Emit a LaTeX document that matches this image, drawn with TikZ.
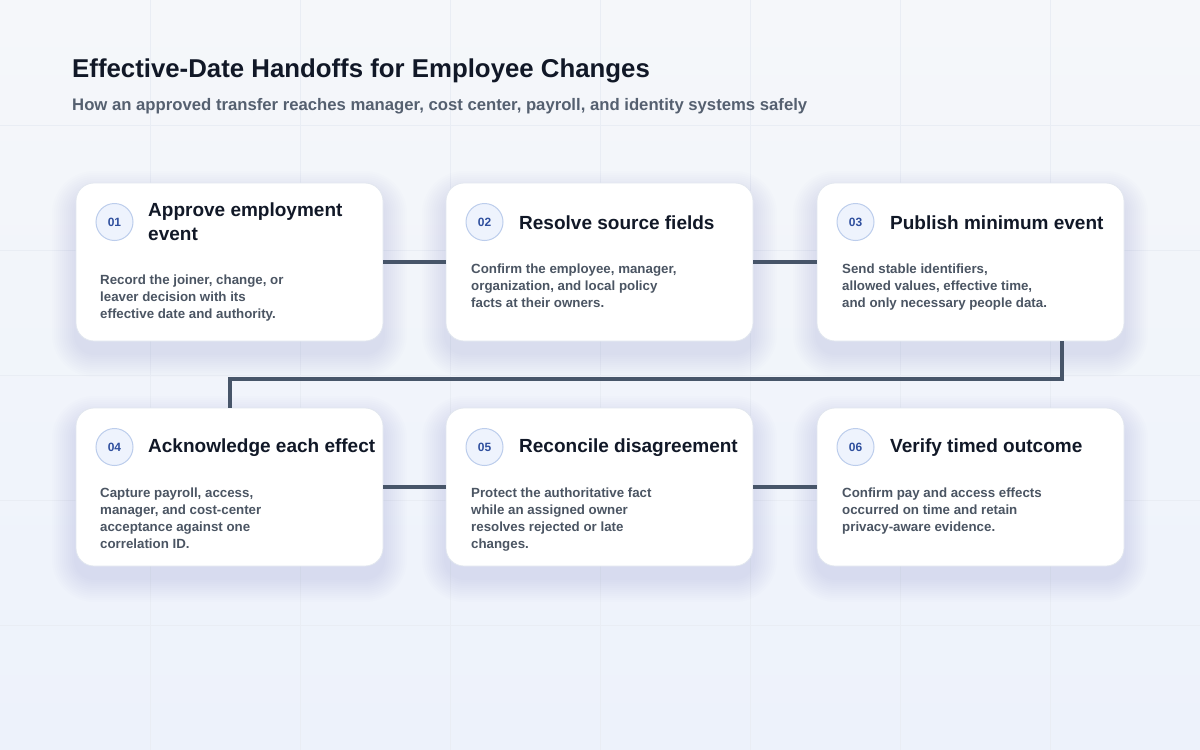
\documentclass[tikz,border=0pt]{standalone}
\usepackage{xcolor}
\usepackage{fontspec}
\setmainfont{Liberation Sans}
\usepackage{tikz}
\usetikzlibrary{positioning}

\definecolor{ink}{HTML}{111827}
\definecolor{slate}{HTML}{4B5563}
\definecolor{subink}{HTML}{556070}
\definecolor{wire}{HTML}{475569}
\definecolor{ringfill}{HTML}{EEF3FD}
\definecolor{ringline}{HTML}{BCCDEC}
\definecolor{numblue}{HTML}{2F4F9E}
\definecolor{bgtop}{HTML}{F5F7FA}
\definecolor{bgbot}{HTML}{EDF2FB}
\definecolor{gridline}{HTML}{E9EDF4}
\definecolor{cardline}{HTML}{E2E7EF}
\definecolor{shadowtint}{HTML}{4A5A80}

\tikzset{
  card/.style={draw=cardline, line width=0.8pt, fill=white, rounded corners=18pt,
    minimum width=307pt, minimum height=158pt, inner sep=0pt},
  haze/.style={fill=shadowtint, opacity=0.009},
  badge/.style={circle, draw=ringline, line width=1pt, fill=ringfill, minimum size=37pt, inner sep=0pt,
    text=numblue, font=\bfseries\fontsize{12}{14}\selectfont},
  headline/.style={anchor=west, align=left, inner sep=0pt, text=ink,
    font=\bfseries\fontsize{19}{24}\selectfont},
  blurb/.style={anchor=north west, align=left, inner sep=0pt, text=slate,
    font=\bfseries\fontsize{13.3}{17}\selectfont},
  link/.style={draw=wire, line width=4pt}
}

\begin{document}
\begin{tikzpicture}[x=1pt, y=-1pt]
   \useasboundingbox (0,0) rectangle (1200,750);
   \shade[top color=bgtop, bottom color=bgbot] (0,0) rectangle (1200,750);
   \foreach \gx in {150,300,...,1050} \draw[gridline, line width=0.8pt] (\gx,0) -- (\gx,750);
   \foreach \gy in {125,250,...,625} \draw[gridline, line width=0.8pt] (0,\gy) -- (1200,\gy);

   \node (heading) [anchor=base west, inner sep=0pt, text=ink,
       font=\bfseries\fontsize{25.8}{30}\selectfont] at (72,77) {Effective-Date Handoffs for Employee Changes};
   \node (subheading) [anchor=base west, inner sep=0pt, text=subink,
       font=\bfseries\fontsize{16.7}{19}\selectfont] at (72,110) {How an approved transfer reaches manager, cost center, payroll, and identity systems safely};

   \foreach \cx/\cy in {229.5/262, 599.5/262, 970.5/262, 229.5/487, 599.5/487, 970.5/487}
       \foreach \k/\rr in {2/20,4/22,6/24,8/26,10/28,12/30,14/32,16/34,18/36,20/38,22/40,24/42}
           \fill[haze, rounded corners=\rr pt] (\cx-153.5-\k,\cy-67-\k) rectangle (\cx+153.5+\k,\cy+91+\k);

   \node (card1) [card] at (229.5,262) {};
   \node (card2) [card] at (599.5,262) {};
   \node (card3) [card] at (970.5,262) {};
   \node (card4) [card] at (229.5,487) {};
   \node (card5) [card] at (599.5,487) {};
   \node (card6) [card] at (970.5,487) {};

   \node (badge1) [badge] at (114.5,222) {01};
   \node (badge2) [badge] at (484.5,222) {02};
   \node (badge3) [badge] at (855.5,222) {03};
   \node (badge4) [badge] at (114.5,447) {04};
   \node (badge5) [badge] at (484.5,447) {05};
   \node (badge6) [badge] at (855.5,447) {06};

   \node (head1) [headline] at (148,222) {Approve employment\\event};
   \node (head2) [headline] at (519,223) {Resolve source fields};
   \node (head3) [headline] at (890,223) {Publish minimum event};
   \node (head4) [headline] at (148,448) {Acknowledge each effect};
   \node (head5) [headline] at (519,448) {Reconcile disagreement};
   \node (head6) [headline] at (890,448) {Verify timed outcome};

   \node (desc1) [blurb] at (100,275) {Record the joiner, change, or\\leaver decision with its\\effective date and authority.};
   \node (desc2) [blurb] at (471,264) {Confirm the employee, manager,\\organization, and local policy\\facts at their owners.};
   \node (desc3) [blurb] at (842,264) {Send stable identifiers,\\allowed values, effective time,\\and only necessary people data.};
   \node (desc4) [blurb] at (100,488) {Capture payroll, access,\\manager, and cost-center\\acceptance against one\\correlation ID.};
   \node (desc5) [blurb] at (471,488) {Protect the authoritative fact\\while an assigned owner\\resolves rejected or late\\changes.};
   \node (desc6) [blurb] at (842,488) {Confirm pay and access effects\\occurred on time and retain\\privacy-aware evidence.};

   \draw[link] (card1) -- (card2);
   \draw[link] (card2) -- (card3);
   \draw[link] ([xshift=91.5pt]card3.south) -- ++(0,38) -| (card4.north);
   \draw[link] (card4) -- (card5);
   \draw[link] (card5) -- (card6);

\end{tikzpicture}
\end{document}
